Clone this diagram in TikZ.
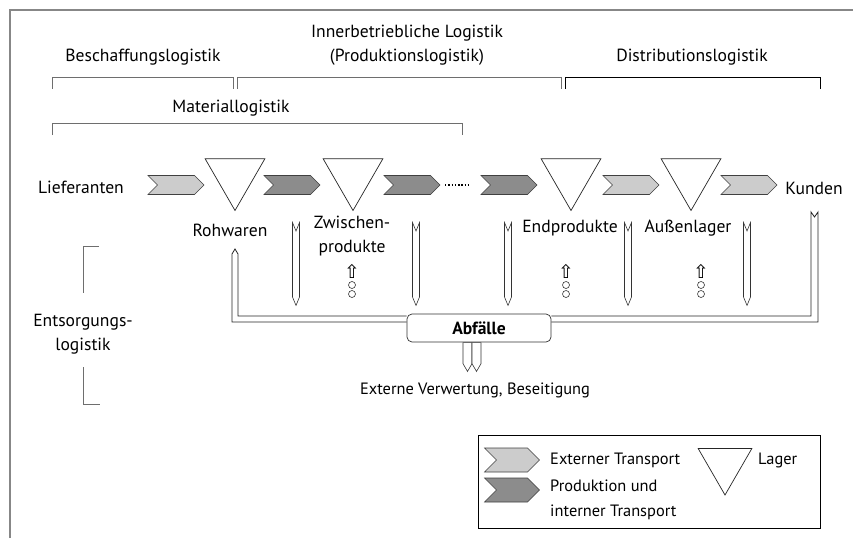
\documentclass[tikz,border=0pt]{standalone}
\usepackage{fontspec}
\setmainfont{PT Sans}
\newfontfamily\symbolfont{DejaVu Sans}
\usetikzlibrary{shapes.geometric,shapes.symbols}
\definecolor{framegray}{RGB}{135,135,135}
\definecolor{bracketgray}{RGB}{110,110,110}
\definecolor{extfill}{RGB}{204,204,204}
\definecolor{prodfill}{RGB}{140,140,140}
\def\px{0.03cm}
\tikzset{
  txt/.style={font=\fontsize{15}{20}\selectfont,align=center,inner sep=0pt},
  smalltxt/.style={font=\fontsize{14}{21}\selectfont,inner sep=0pt},
  chevron/.style={signal,signal from=west,signal to=east,draw=black!75,line width=0.5pt,inner sep=0pt,minimum width=56*\px,minimum height=19*\px},
  extflow/.style={chevron,fill=extfill},
  prodflow/.style={chevron,fill=prodfill},
  lager/.style={regular polygon,regular polygon sides=3,shape border rotate=180,draw=black!85,line width=0.6pt,inner sep=0pt,minimum size=69*\px,fill=white},
  wasteflow/.style={signal,signal from=north,signal to=south,signal pointer angle=45,draw=black!80,line width=0.5pt,fill=white,inner sep=0pt,minimum width=7*\px,minimum height=66*\px},
  exitflow/.style={signal,signal to=south,signal pointer angle=60,draw=black!80,line width=0.5pt,fill=white,inner sep=0pt,minimum width=9*\px,minimum height=21*\px},
  channel/.style={draw=black!85,line width=0.7pt},
  bracket/.style={draw=bracketgray,line width=0.7pt},
  reuse/.style={font=\symbolfont\fontsize{16}{16}\selectfont,inner sep=0pt},
  ring/.style={circle,draw=black!80,line width=0.5pt,minimum size=7*\px,inner sep=0pt}
}

\begin{document}
\begin{tikzpicture}[x=0.03cm,y=-0.03cm]
  \useasboundingbox (0,0) rectangle (853,538);
  \draw[framegray,line width=2*\px] (10,538) -- (10,10) -- (853,10);

  % Oberbegriffe
  \node[txt] (besch) at (143,57) {Beschaffungslogistik};
  \node[txt] (inner) at (407,45) {Innerbetriebliche Logistik\\(Produktionslogistik)};
  \node[txt] (distr) at (692,57) {Distributionslogistik};
  \node[txt] (mat) at (231,108) {Materiallogistik};
  \draw[bracket] (52,89) -- (52,77) -- (233,77) -- (233,89);
  \draw[bracket] (237,89) -- (237,77) -- (561,77) -- (561,89);
  \draw[bracket,draw=black] (565,89) -- (565,77) -- (820,77) -- (820,89);
  \draw[bracket] (52,135) -- (52,123) -- (462,123) -- (462,135);

  % Material- und Warenfluss
  \node[txt] (lief) at (81,187) {Lieferanten};
  \node[extflow] (t1) at (176,185) {};
  \node[lager] (roh) at (235,176) {};
  \node[prodflow] (t2) at (292,185) {};
  \node[lager] (zw) at (353,176) {};
  \node[prodflow] (t3) at (412,185) {};
  \node[prodflow] (t4) at (509,185) {};
  \node[lager] (endp) at (571,176) {};
  \node[extflow] (t5) at (631,185) {};
  \node[lager] (aus) at (691,176) {};
  \node[extflow] (t6) at (749,185) {};
  \node[txt] (kunden) at (814,188) {Kunden};
  \draw[dash pattern=on 1.2pt off 1.6pt,line width=1pt] ([xshift=33*\px]t3.center) -- ([xshift=-39*\px]t4.center);

  \node[txt] (rohlbl) at (230,230) {Rohwaren};
  \node[txt] (zwlbl) at (352,236) {Zwischen-\\produkte};
  \node[txt] (endlbl) at (570,228) {Endprodukte};
  \node[txt] (auslbl) at (688,228) {Außenlager};

  % Abfallstroeme
  \node[wasteflow] (w1) at (296,264) {};
  \node[wasteflow] (w2) at (416,264) {};
  \node[wasteflow] (w3) at (508,264) {};
  \node[wasteflow] (w4) at (628,264) {};
  \node[wasteflow] (w5) at (747,264) {};

  \node[reuse] (r1) at (352,271) {⇧};
  \node[ring] (r1a) at (352,285) {};
  \node[ring] (r1b) at (352,294) {};
  \node[reuse] (r2) at (566,271) {⇧};
  \node[ring] (r2a) at (566,285) {};
  \node[ring] (r2b) at (566,294) {};
  \node[reuse] (r3) at (701,271) {⇧};
  \node[ring] (r3a) at (701,285) {};
  \node[ring] (r3b) at (701,294) {};

  \node[txt,font=\bfseries\fontsize{15}{17}\selectfont,draw=black!80,line width=0.6pt,rounded corners=5*\px,minimum width=144*\px,minimum height=28*\px,fill=white] (abf) at (479,328) {Abfälle};
  \coordinate (recyc) at (235,249);
  \coordinate (kout) at (814.5,217);
  \draw[channel] (abf.west |- 0,316) -- (238,316) -- (238,254) -- (recyc) -- (232,254) -- (232,322) -- (abf.west |- 0,322);
  \draw[channel] (abf.east |- 0,316) -- (811,316) -- (811,212) -- (kout) -- (818,212) -- (818,322) -- (abf.east |- 0,322);
  \node[exitflow,anchor=north] (ex1) at ([xshift=-11.5*\px]abf.south) {};
  \node[exitflow,anchor=north] (ex2) at ([xshift=-2.5*\px]abf.south) {};
  \node[smalltxt] (ext) at (475,390) {Externe Verwertung, Beseitigung};

  \node[txt] (ents) at (83,334) {Entsorgungs-\\logistik};
  \draw[bracket] (99,246) -- (83,246) -- (83,293);
  \draw[bracket] (83,367) -- (83,404) -- (100,404);

  % Legende
  \node[draw=black,line width=0.7pt,minimum width=342*\px,minimum height=93*\px,inner sep=0pt] (legend) at (649,481.5) {};
  \node[extflow,minimum width=55*\px,minimum height=24*\px] (legext) at (512,460) {};
  \node[prodflow,minimum width=55*\px,minimum height=24*\px] (legprod) at (512,490) {};
  \node[smalltxt,anchor=west] (legexttxt) at (550,460) {Externer Transport};
  \node[smalltxt,anchor=west,align=left] (legprodtxt) at (550,500) {Produktion und\\interner Transport};
  \node[lager,minimum size=62*\px] (leglager) at (725,464) {};
  \node[smalltxt,anchor=west] (leglagertxt) at (758,460) {Lager};
\end{tikzpicture}
\end{document}
